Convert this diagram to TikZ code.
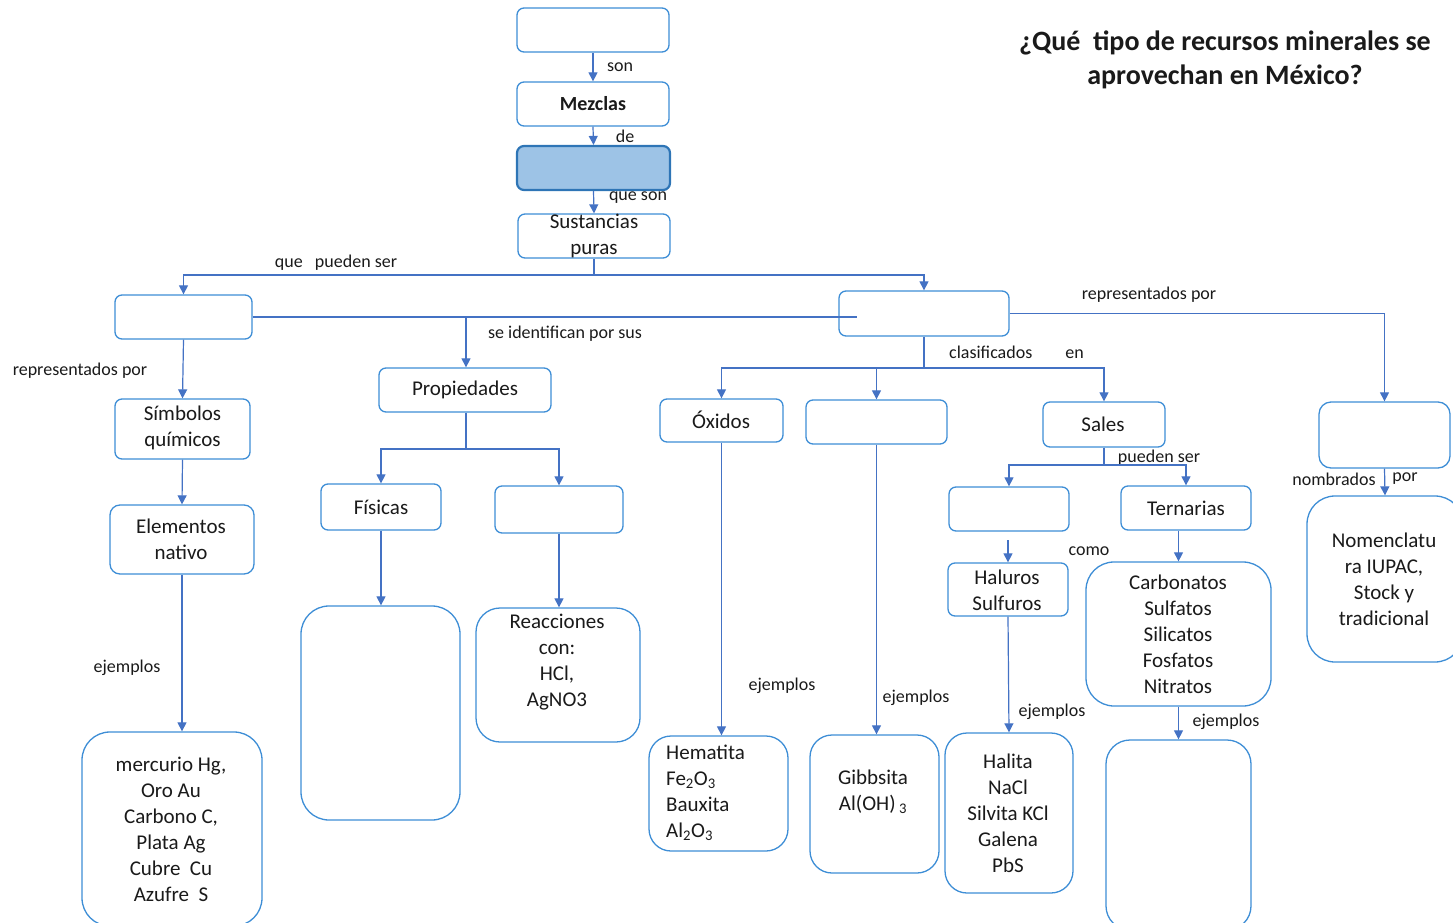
\documentclass[tikz,border=0pt]{standalone}
\usepackage{fontspec}
\setmainfont{Carlito}
\usetikzlibrary{arrows.meta}
\definecolor{boxblue}{HTML}{3E8ED6}
\definecolor{linkblue}{HTML}{4472C4}
\definecolor{fillblue}{HTML}{9DC3E6}
\definecolor{darkblue}{HTML}{2E75B6}
\definecolor{ink}{HTML}{1A1A1A}
\begin{document}
\begin{tikzpicture}[x=1pt,y=-1pt,
 box/.style={draw=boxblue, line width=1.3pt, rounded corners=7pt, fill=white, inner sep=0pt},
 txt/.style={align=center, inner sep=0pt, text=ink, font=\fontsize{21}{26}\selectfont},
 lbl/.style={inner sep=0pt, text=ink, font=\fontsize{18}{21}\selectfont},
 link/.style={draw=linkblue, line width=1.2pt},
 arr/.style={link, -{Triangle[length=9pt,width=9pt]}},
]
\useasboundingbox (0,0) rectangle (1453,923);
% title
\node[txt, font=\bfseries\fontsize{28}{34}\selectfont] (title) at (1225,60) {¿Qué\ \ tipo de recursos minerales se\\aprovechan en México?};
% boxes
\node[box, minimum width=152, minimum height=44] (top) at (593,30) {};
\node[box, minimum width=152, minimum height=44] (mez) at (593,104) {};
\node[box, minimum width=153, minimum height=44, fill=fillblue, draw=darkblue, line width=2.2pt] (blue) at (593.5,168) {};
\node[box, minimum width=152, minimum height=44] (sust) at (594,236) {};
\node[box, minimum width=137, minimum height=44] (elem) at (183.5,317) {};
\node[box, minimum width=170, minimum height=45] (comp) at (924,313.5) {};
\node[box, minimum width=135, minimum height=60] (simb) at (182.5,429) {};
\node[box, minimum width=144, minimum height=69, rounded corners=10pt] (nat) at (182,539.5) {};
\node[box, minimum width=180, minimum height=194, rounded corners=28pt] (merc) at (172,829) {};
\node[box, minimum width=172, minimum height=44] (prop) at (465,390) {};
\node[box, minimum width=120, minimum height=46] (fis) at (381,507) {};
\node[box, minimum width=128, minimum height=47] (quim) at (559,509.5) {};
\node[box, minimum width=159, minimum height=214, rounded corners=28pt] (fisbig) at (380.5,713) {};
\node[box, minimum width=164, minimum height=134, rounded corners=24pt] (reac) at (558,675) {};
\node[box, minimum width=123, minimum height=43] (oxi) at (721.5,420.5) {};
\node[box, minimum width=141, minimum height=44] (hid) at (876.5,422) {};
\node[box, minimum width=122, minimum height=45] (sal) at (1104,424.5) {};
\node[box, minimum width=131, minimum height=66, rounded corners=12pt] (nom) at (1384.5,435) {};
\node[box, minimum width=120, minimum height=44] (bin) at (1009,509) {};
\node[box, minimum width=130, minimum height=44] (ter) at (1186,508) {};
\node[box, minimum width=120, minimum height=53] (hal) at (1008,589.5) {};
\node[box, minimum width=185, minimum height=144, rounded corners=28pt] (carb) at (1178.5,634) {};
\node[box, minimum width=156, minimum height=166, rounded corners=28pt] (nomen) at (1385,579) {};
\node[box, minimum width=139, minimum height=115, rounded corners=22pt] (hem) at (718.5,793.5) {};
\node[box, minimum width=129, minimum height=138, rounded corners=22pt] (gib) at (874.5,804) {};
\node[box, minimum width=128, minimum height=160, rounded corners=22pt] (halita) at (1009,813) {};
\node[box, minimum width=145, minimum height=190, rounded corners=24pt] (bot) at (1178.5,835) {};
% texts
\node[txt, font=\bfseries\fontsize{20}{26}\selectfont] (mezt) at (593,104) {Mezclas};
\node[txt] (sustt) at (594,236) {Sustancias\\puras};
\node[txt] (simbt) at (182.5,428) {Símbolos\\químicos};
\node[txt] (natt) at (181,539) {Elementos\\nativo};
\node[txt] (merct) at (171,829) {mercurio Hg,\\Oro Au\\Carbono C,\\Plata Ag\\Cubre\ \ Cu\\Azufre\ \ S};
\node[txt] (propt) at (465,390) {Propiedades};
\node[txt] (fist) at (381,507) {Físicas};
\node[txt] (react) at (557,662) {Reacciones\\con:\\HCl,\\AgNO3};
\node[txt] (oxit) at (721,420) {Óxidos};
\node[txt] (salt) at (1103,424) {Sales};
\node[txt] (tert) at (1186,508) {Ternarias};
\node[txt] (halt) at (1007,590) {Haluros\\Sulfuros};
\node[txt] (carbt) at (1178,634) {Carbonatos\\Sulfatos\\Silicatos\\Fosfatos\\Nitratos};
\node[txt] (noment) at (1384,579) {Nomenclatu\\ra IUPAC,\\Stock y\\tradicional};
\node[txt, align=left, anchor=west] (hemt) at (666,793) {Hematita\\Fe\textsubscript{2}O\textsubscript{3}\\Bauxita\\Al\textsubscript{2}O\textsubscript{3}};
\node[txt] (gibt) at (873,792) {Gibbsita\\Al(OH)\,\textsubscript{3}};
\node[txt] (halitat) at (1008,813) {Halita\\NaCl\\Silvita KCl\\Galena\\PbS};
% edge labels
\node[lbl] (l1) at (620,67) {son};
\node[lbl] (l2) at (625,136) {de};
\node[lbl] (l3) at (638,198) {que son};
\node[lbl] (l4) at (336,263) {que\ \ \ pueden ser};
\node[lbl] (l5) at (565,334) {se identifican por sus};
\node[lbl] (l6) at (80,371) {representados por};
\node[lbl] (l7) at (127,668) {ejemplos};
\node[lbl, anchor=west] (l8) at (949,352) {clasificados\hspace{33pt}en};
\node[lbl] (l9) at (1149,295) {representados por};
\node[lbl] (l10) at (782,686) {ejemplos};
\node[lbl] (l11) at (916,698) {ejemplos};
\node[lbl] (l12) at (1159,458) {pueden ser};
\node[lbl] (l13) at (1089,551) {como};
\node[lbl] (l14) at (1052,712) {ejemplos};
\node[lbl] (l15) at (1226,722) {ejemplos};
\node[lbl] (l16) at (1334,479) {nombrados};
\node[lbl] (l17) at (1405,479) {por};
% junction coordinates
\coordinate (j1) at (594,275);
\coordinate (c1) at (857,317);
\coordinate (pj) at (466,317);
\coordinate (pk) at (466,449);
\coordinate (ck) at (924,368);
\coordinate (sk) at (1104,465);
\coordinate (bk) at (1008,540);
% connectors
\draw[arr] (top.south) -- (mez.north);
\draw[arr] (mez.south) -- (blue.north);
\draw[arr] (blue.south) -- (sust.north);
\draw[link] (sust.south) -- (j1);
\draw[arr] (j1) -| (elem.north);
\draw[arr] (j1) -| (comp.north);
\draw[link] (elem.east) -- (c1);
\draw[arr] (pj) -- (pj |- prop.north);
\draw[arr] (elem.south) -- (simb.north);
\draw[arr] (simb.south) -- (nat.north);
\draw[arr] (nat.south) -- (nat.south |- merc.north);
\draw[link] (pj |- prop.south) -- (pk);
\draw[arr] (pk) -| (fis.north);
\draw[arr] (pk) -| (quim.north);
\draw[arr] (fis.south) -- (fis.south |- fisbig.north);
\draw[arr] (quim.south) -- (quim.south |- reac.north);
\draw[link] (comp.south) -- (ck);
\draw[arr] (ck) -| (oxi.north);
\draw[arr] (ck) -| (hid.north);
\draw[arr] (ck) -| (sal.north);
\draw[arr] (comp.east) -| (nom.north);
\draw[arr] (oxi.south) -- (oxi.south |- hem.north);
\draw[arr] (hid.south) -- (hid.south |- gib.north);
\draw[link] (sal.south) -- (sk);
\draw[arr] (sk) -| (bin.north);
\draw[arr] (sk) -| (ter.north);
\draw[arr] (bk) -- (hal.north);
\draw[arr] (carb.north |- ter.south) -- (carb.north);
\draw[arr] (hal.south) -- (halita.north);
\draw[arr] (carb.south) -- (bot.north);
\draw[arr] (nom.south) -- (nomen.north);
\end{tikzpicture}
\end{document}
